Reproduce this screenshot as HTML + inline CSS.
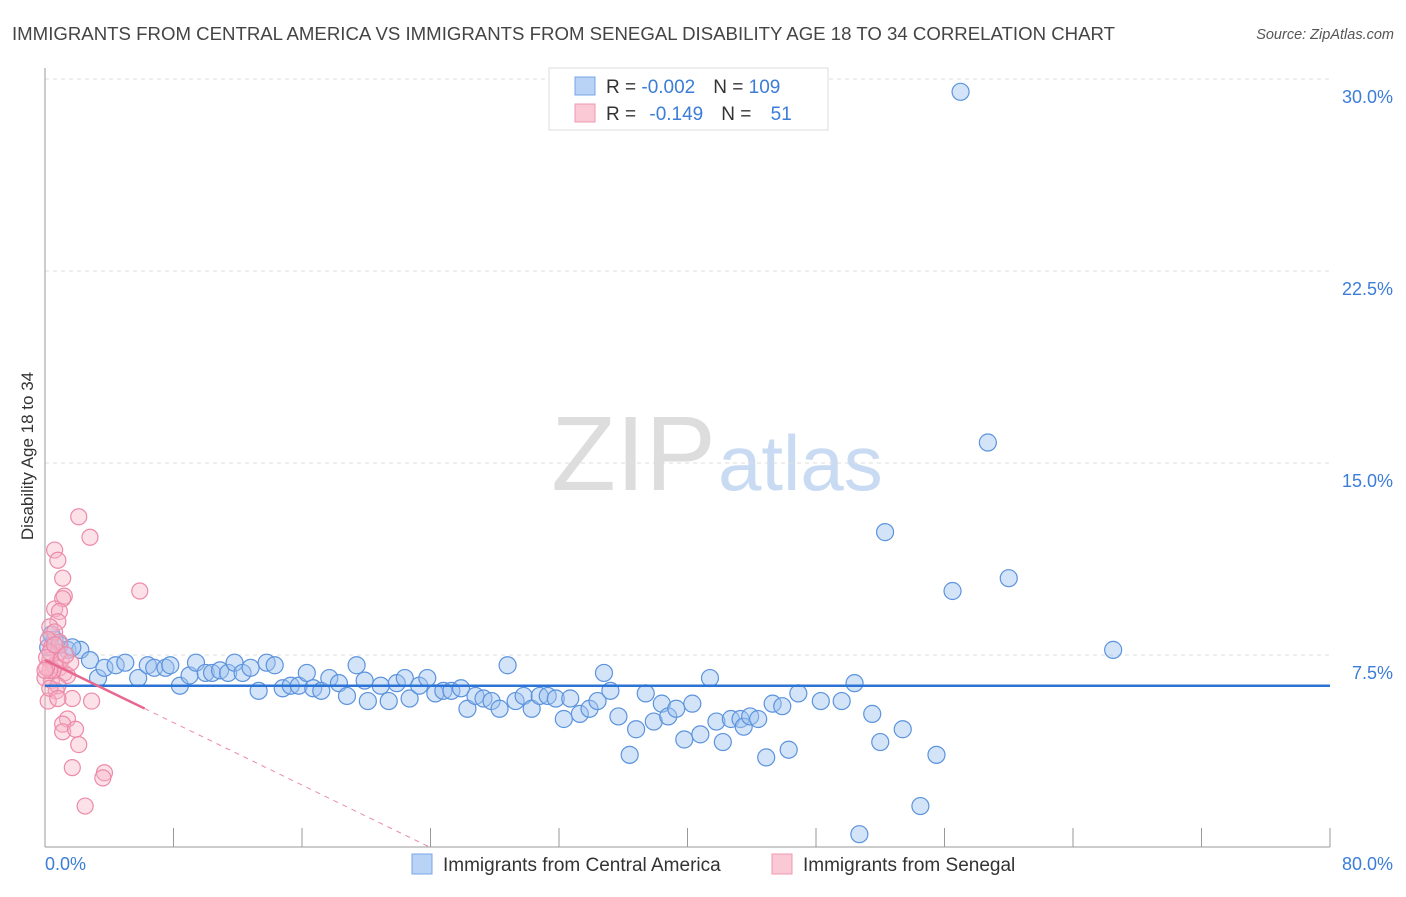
<!DOCTYPE html>
<html><head><meta charset="utf-8"><style>
body{margin:0;background:#fff;font-family:"Liberation Sans",sans-serif;}
svg text{font-family:"Liberation Sans",sans-serif;}
</style></head><body>
<svg id="chart" width="1406" height="892" xmlns="http://www.w3.org/2000/svg">
<text x="12" y="40" font-size="18.6" fill="#444" textLength="1103" lengthAdjust="spacingAndGlyphs">IMMIGRANTS FROM CENTRAL AMERICA VS IMMIGRANTS FROM SENEGAL DISABILITY AGE 18 TO 34 CORRELATION CHART</text>
<text x="1394" y="39" font-size="14.5" fill="#555" text-anchor="end" font-style="italic">Source: ZipAtlas.com</text>
<text x="716" y="490" font-size="106" text-anchor="end" fill="#ddd" font-family="Liberation Serif">ZIP</text>
<text x="718" y="490" font-size="78" fill="#c9dbf2">atlas</text>
<text transform="translate(33,456) rotate(-90)" font-size="17" fill="#333" text-anchor="middle">Disability Age 18 to 34</text>
<g id="grid"></g><g id="axes"></g><g id="blue"></g><g id="pink"></g><g id="trend"></g>
<g>
<rect x="549" y="68" width="279" height="62" fill="#fff" stroke="#ddd"/>
<rect x="575" y="77" width="20" height="18" fill="#b8d3f5" stroke="#7aa6e6"/>
<rect x="575" y="104" width="20" height="18" fill="#fbc8d6" stroke="#ee98b0"/>
<text x="606" y="93" font-size="19" fill="#333">R = <tspan fill="#3b7dd8">-0.002</tspan><tspan dx="18">N = </tspan><tspan fill="#3b7dd8">109</tspan></text>
<text x="606" y="120" font-size="19" fill="#333">R = <tspan dx="8" fill="#3b7dd8">-0.149</tspan><tspan dx="18">N = </tspan><tspan dx="14" fill="#3b7dd8">51</tspan></text>
</g>
<g>
<rect x="412" y="854" width="20" height="20" fill="#b8d3f5" stroke="#7aa6e6"/>
<text x="443" y="871" font-size="19" fill="#333">Immigrants from Central America</text>
<rect x="772" y="854" width="20" height="20" fill="#fbc8d6" stroke="#ee98b0"/>
<text x="803" y="871" font-size="19" fill="#333">Immigrants from Senegal</text>
</g>
</svg>
<script>
const yTicks=[7.5,15,22.5,30];
const yTickLabels=["7.5%","15.0%","22.5%","30.0%"];
const xTicks=[0,8,16,24,32,40,48,56,64,72,80];
const blueX=[0.6,0.9,1.4,2.2,2.8,3.3,3.7,4.4,5.0,5.8,6.4,6.8,7.5,7.8,8.4,9.0,9.4,10.0,10.4,10.9,11.4,11.8,12.3,12.8,13.3,13.8,14.3,14.8,15.3,15.8,16.3,16.7,17.2,17.7,18.3,18.8,19.4,19.9,20.1,20.9,21.4,21.9,22.4,22.7,23.3,23.8,24.3,24.8,25.3,25.9,26.3,26.8,27.3,27.8,28.3,28.8,29.3,29.8,30.3,30.8,31.3,31.8,32.3,32.7,33.3,33.9,34.4,34.8,35.2,35.7,36.4,36.8,37.4,37.9,38.4,38.8,39.3,39.8,40.3,40.8,41.4,41.8,42.2,42.7,43.3,43.5,43.9,44.4,44.9,45.3,45.9,46.3,46.9,48.3,49.6,50.4,50.7,51.5,52.0,52.3,53.4,54.5,55.5,56.5,57.0,58.7,60.0,66.5,0.2,0.4,1.7];
const blueY=[8.1,7.9,7.7,7.7,7.3,6.6,7.0,7.1,7.2,6.6,7.1,7.0,7.0,7.1,6.3,6.7,7.2,6.8,6.8,6.9,6.8,7.2,6.8,7.0,6.1,7.2,7.1,6.2,6.3,6.3,6.8,6.2,6.1,6.6,6.4,5.9,7.1,6.5,5.7,6.3,5.7,6.4,6.6,5.8,6.3,6.6,6.0,6.1,6.1,6.2,5.4,5.9,5.8,5.7,5.4,7.1,5.7,5.9,5.4,5.9,5.9,5.8,5.0,5.8,5.2,5.4,5.7,6.8,6.1,5.1,3.6,4.6,6.0,4.9,5.6,5.1,5.4,4.2,5.6,4.4,6.6,4.9,4.1,5.0,5.0,4.7,5.1,5.0,3.5,5.6,5.5,3.8,6.0,5.7,5.7,6.4,0.5,5.2,4.1,12.3,4.6,1.6,3.6,10.0,29.5,15.8,10.5,7.7,7.8,8.3,7.8];
const pinkX=[2.1,2.8,0.6,0.8,1.1,5.9,1.2,1.1,0.6,0.9,0.8,0.3,0.6,0.2,0.4,0.8,0.3,0.6,0.9,1.2,1.4,0.4,0.7,0.2,1.7,2.9,1.4,1.1,1.1,1.9,2.1,1.7,3.7,3.6,2.5,0.9,0.3,0.1,0.5,0.0,0.8,1.0,1.6,0.3,0.6,0.1,1.3,0.3,0.8,0.0];
const pinkY=[12.9,12.1,11.6,11.2,10.5,10.0,9.8,9.7,9.3,9.2,8.8,8.6,8.4,8.1,7.8,7.6,7.3,7.1,7.0,6.8,6.7,6.5,6.1,5.7,5.8,5.7,5.0,4.8,4.5,4.6,4.0,3.1,2.9,2.7,1.6,8.0,7.6,7.4,6.9,6.6,6.3,7.3,7.2,6.9,7.9,7.0,7.5,6.2,5.8,6.9];
const blueTrend=[6.3,6.3];
const pinkTrend=[7.3,-0.305];
const X0=45,X1=1330,Y0=847,YTOP=79;
const sx=v=>X0+(X1-X0)*v/80;
const sy=v=>Y0-(Y0-YTOP)*v/30;
const NS="http://www.w3.org/2000/svg";
function mk(tag,attrs,parent){const e=document.createElementNS(NS,tag);for(const k in attrs)e.setAttribute(k,attrs[k]);parent.appendChild(e);return e;}
const grid=document.getElementById('grid'),axes=document.getElementById('axes');
yTicks.forEach((t,i)=>{
 const l=mk('line',{x1:X0,x2:X1,y1:sy(t),y2:sy(t),stroke:'#ddd','stroke-dasharray':'4,4'},grid);
 
 
 const tx=mk('text',{x:1393,y:sy(t)+24,'font-size':18,fill:'#3b7dd8','text-anchor':'end'},axes);
 tx.textContent=yTickLabels[i];
 
 
});
const yl=mk('line',{x1:X0,x2:X0,y1:68,y2:Y0,stroke:'#999'},axes);


const xl=mk('line',{x1:X0,x2:X1,y1:Y0,y2:Y0,stroke:'#999'},axes);


xTicks.forEach(t=>{const tk=mk('line',{x1:sx(t),x2:sx(t),y1:828,y2:Y0,stroke:'#999'},axes);
 
 });
const xa=mk('text',{x:45,y:870,'font-size':18,fill:'#3b7dd8'},axes);xa.textContent='0.0%';


const xb=mk('text',{x:1393,y:870,'font-size':18,fill:'#3b7dd8','text-anchor':'end'},axes);xb.textContent='80.0%';


const bg=document.getElementById('blue'),pg=document.getElementById('pink');
blueX.forEach((x,i)=>{const c=mk('circle',{cx:sx(x),cy:sy(blueY[i]),r:8.5,fill:'rgba(160,196,240,0.45)',stroke:'#5b93dd','stroke-width':1.2},bg);
 
 });
pinkX.forEach((x,i)=>{const c=mk('circle',{cx:sx(x),cy:sy(pinkY[i]),r:8,fill:'rgba(248,180,200,0.4)',stroke:'#ec8aa8','stroke-width':1.2},pg);
 
 });
const tg=document.getElementById('trend');
const bt=mk('line',{x1:sx(0),x2:sx(80),y1:sy(blueTrend[0]),y2:sy(blueTrend[1]),stroke:'#2b74d6','stroke-width':2.5},tg);


const pf=x=>pinkTrend[0]+pinkTrend[1]*x;
const ps=mk('line',{x1:sx(0),x2:sx(6.2),y1:sy(pf(0)),y2:sy(pf(6.2)),stroke:'#e8678e','stroke-width':2.5},tg);


const xe=-pinkTrend[0]/pinkTrend[1];
const pd=mk('line',{x1:sx(6.2),x2:sx(xe),y1:sy(pf(6.2)),y2:sy(0),stroke:'#ec8aa8','stroke-width':1,'stroke-dasharray':'5,5'},tg);


</script>
</body></html>
